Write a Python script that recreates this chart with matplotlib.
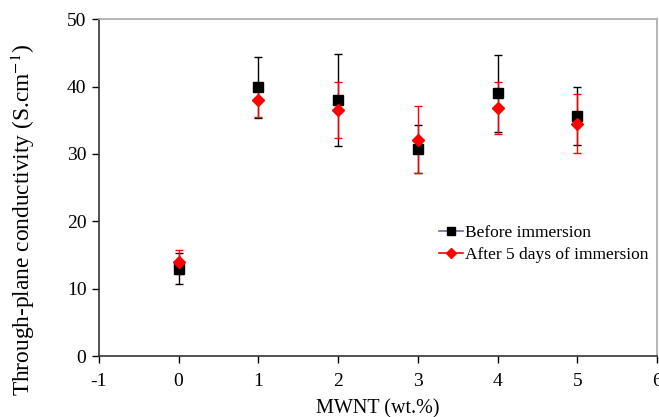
import matplotlib
matplotlib.use("Agg")
import matplotlib.pyplot as plt
import numpy as np

plt.rcParams['font.family'] = ['Liberation Serif', 'DejaVu Serif']
plt.rcParams['mathtext.fontset'] = 'stix'

mwnt = [0, 1, 2, 3, 4, 5]
before = [13.0, 39.9, 38.0, 30.7, 39.0, 35.7]
before_err = [2.3, 4.5, 6.8, 3.6, 5.7, 4.3]
after = [14.0, 38.0, 36.5, 32.1, 36.8, 34.5]
after_err = [1.8, 2.5, 4.2, 5.0, 3.9, 4.4]
xtick_labels = ['-1', '0', '1', '2', '3', '4', '5', '6']

fig = plt.figure(figsize=(6.59, 4.17), dpi=100)
ax = fig.add_axes([0.150, 0.146, 0.847, 0.808])

ax.errorbar(mwnt, before, yerr=before_err, fmt='none', ecolor='black',
            elinewidth=1, capsize=3, capthick=1, zorder=2)
ax.errorbar(mwnt, after, yerr=after_err, fmt='none', ecolor='red',
            elinewidth=1, capsize=3, capthick=1, zorder=3)
ax.plot(mwnt, before, linestyle='none', marker='s', color='black',
        markersize=7, zorder=4)
ax.plot(mwnt, after, linestyle='none', marker='D', color='red',
        markersize=6, zorder=5)

h1, = ax.plot([], [], color='#6a6aa8', marker='s', markerfacecolor='black',
              markeredgecolor='black', markersize=6, lw=1.2)
h2, = ax.plot([], [], color='red', marker='D', markersize=5, lw=1.2)
ax.legend([h1, h2], ['Before immersion', 'After 5 days of immersion'],
          loc='upper left', bbox_to_anchor=(0.597, 0.41), frameon=False,
          fontsize=12.5, handlelength=1.4, handletextpad=0.1, labelspacing=0.35,
          borderaxespad=0)

ax.set_xlim(-1, 6)
ax.set_ylim(0, 50)
ax.set_xticks(range(-1, 7))
ax.set_xticklabels(xtick_labels)
ax.set_yticks(range(0, 51, 10))
ax.tick_params(axis='both', direction='out', length=5, width=1, labelsize=14,
               color='black')
ax.tick_params(axis='y', pad=4)
ax.tick_params(axis='x', pad=7)

for s in ['left', 'bottom']:
    ax.spines[s].set_color('#333333')
    ax.spines[s].set_linewidth(1.2)
for s in ['top', 'right']:
    ax.spines[s].set_color('#aaaaaa')
    ax.spines[s].set_linewidth(1.2)

ax.set_xlabel('MWNT (wt.%)', fontsize=14.5)
ax.xaxis.set_label_coords(0.5, -0.128)
ax.set_ylabel('Through-plane conductivity (S.cm$^{-1}$)', fontsize=16.8)
ax.yaxis.set_label_coords(-0.11, 0.404)

fig.savefig('out.png', dpi=100)
